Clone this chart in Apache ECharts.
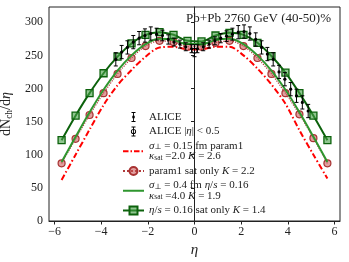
<!DOCTYPE html>
<html><head><meta charset="utf-8">
<script src="https://cdn.jsdelivr.net/npm/echarts@6/dist/echarts.min.js"></script>
<style>html,body{margin:0;padding:0;background:#fff}#c{width:349px;height:262px}</style>
</head><body><div id="c"></div>
<script>
// ---- data ----
const etaGrid   = [-5.7,-5.1,-4.5,-3.9,-3.3,-2.7,-2.1,-1.5,-0.9,-0.3,0.3,0.9,1.5,2.1,2.7,3.3,3.9,4.5,5.1,5.7];
const redDashDot= [62,100,138,175,205,228,248,262,263,259,259,263,263,250,230,206,177,137,100,64];
const circleSat = [87,124,160,193,222,246,264,272,270,263,263,269,272,264,246,222,193,161,125,87];
const greenLine = [89,127,164,198,227,250,267,275,273,267,267,273,275,267,250,227,198,164,127,89];
const squareSat = [122,159,193,223,248,268,281,285,281,272,271,280,284,281,269,249,224,193,159,122];
const aliceEta  = [-3.375,-3.125,-2.875,-2.625,-2.375,-2.125,-1.875,-1.625,-1.375,-1.125,-0.875,-0.625,-0.375,-0.125,
                   0.125,0.375,0.625,0.875,1.125,1.375,1.625,1.875,2.125,2.375,2.625,2.875,3.125,3.375,3.625,3.875,4.125,4.375,4.625,4.875];
const aliceVal  = [244,255,262,270,276,280,283,282,280,274,270,267,263,260,
                   260,263,267,272,276,279,282,285,286,283,274,262,252,244,225,214,199,189,179,166];
const aliceErr  = [10,10,10,10,10,10,10,9,8,7,6,6,6,6,
                   6,6,6,6,7,8,9,10,10,10,10,10,10,10,10,10,10,10,10,10];
const alice05Eta = [0];
const alice05Val = [257];
const alice05Err = [9];
const xTicks = [-6,-4,-2,0,2,4,6];
const yTicks = [0,50,100,150,200,250,300];

const SERIF = "'Liberation Serif','DejaVu Serif',serif";
const pairs = (xs, ys) => xs.map((x,i)=>[x, ys[i]]);
const triples = (xs, ys, es) => xs.map((x,i)=>[x, ys[i], es[i]]);

function errRender(capHalf, open){
  return function(params, api){
    const x=api.value(0), y=api.value(1), e=api.value(2);
    const p=api.coord([x,y]), lo=api.coord([x,y-e]), hi=api.coord([x,y+e]);
    const st={stroke:'#000',lineWidth:1};
    const ch=[
      {type:'line',shape:{x1:p[0],y1:lo[1],x2:p[0],y2:hi[1]},style:st},
      {type:'line',shape:{x1:p[0]-capHalf,y1:lo[1],x2:p[0]+capHalf,y2:lo[1]},style:st},
      {type:'line',shape:{x1:p[0]-capHalf,y1:hi[1],x2:p[0]+capHalf,y2:hi[1]},style:st},
      open ? {type:'circle',shape:{cx:p[0],cy:p[1],r:2.6},style:{fill:'rgba(255,255,255,0)',stroke:'#000',lineWidth:1}}
           : {type:'circle',shape:{cx:p[0],cy:p[1],r:1.6},style:{fill:'#000'}}
    ];
    return {type:'group',children:ch};
  };
}

const aliceIcon = 'path://M-10.5 5H-10.5Z M10.5 5H10.5Z M-2 0H2V0.9H-2Z M-0.45 0H0.45V10H-0.45Z M-2 9.1H2V10H-2Z M-1.2 3.8H1.2V6.2H-1.2Z';
const openIcon  = 'path://M-10.5 5H-10.5Z M10.5 5H10.5Z M-2 0H2V0.9H-2Z M-0.45 0H0.45V10H-0.45Z M-2 9.1H2V10H-2Z M2.6 5A2.6 2.6 0 1 1 -2.6 5A2.6 2.6 0 1 1 2.6 5Z M1.7 5A1.7 1.7 0 1 0 -1.7 5A1.7 1.7 0 1 0 1.7 5Z';
const dashDotIcon = 'path://M0 0H0Z M21 10H21Z M0 4H5.5V6H0Z M7.5 4H9V6H7.5Z M11 4H16.5V6H11Z M18.5 4H20V6H18.5Z';
const solidIcon = 'path://M0 0H0Z M21 10H21Z M0 4H21V6H0Z';

const legendText = {
  'ALICE': 'ALICE',
  'ALICE05': 'ALICE |{i|η}| < 0.5',
  'red': '{i|σ}{sub|⊥} = 0.15 fm param1\n{i|κ}{sub|sat} =2.0 {i|K} = 2.6',
  'circ': 'param1 sat only {i|K} = 2.2',
  'green': '{i|σ}{sub|⊥} = 0.4 fm {i|η}/{i|s} = 0.16\n{i|κ}{sub|sat} =4.0 {i|K} = 1.9',
  'sq': '{i|η}/{i|s} = 0.16 sat only {i|K} = 1.4'
};

const chart = echarts.init(document.getElementById('c'), null, {renderer:'canvas'});
chart.setOption({
  animation:false,
  backgroundColor:'#fff',
  grid:{left:49,right:9,top:7,bottom:41,containLabel:false,outerBoundsMode:'none',
        show:true,borderColor:'#222',borderWidth:1,backgroundColor:'transparent'},
  title:{text:'Pb+Pb 2760 GeV (40-50)%',right:18,top:12,padding:0,
         textStyle:{fontFamily:SERIF,fontSize:13,fontWeight:'normal',color:'#222'}},
  xAxis:{type:'value',min:-6.24,max:6.24,
    name:'η',nameLocation:'middle',nameGap:16,
    nameTextStyle:{fontFamily:SERIF,fontSize:15,fontStyle:'italic',color:'#222'},
    axisLine:{show:true,lineStyle:{color:'#222',width:1}},
    axisTick:{show:true,length:3.5,customValues:xTicks,lineStyle:{color:'#222'}},
    axisLabel:{customValues:xTicks,margin:5,fontFamily:SERIF,fontSize:12,color:'#222',
               formatter:v=>String(v).replace('-','\u2212')},
    splitLine:{show:false}},
  yAxis:{type:'value',min:0,max:323,
    name:'{n|dN}{sub|ch}{n|/d}{i|η}',nameLocation:'middle',nameGap:21,nameRotate:90,
    nameTextStyle:{fontFamily:SERIF,fontSize:14,color:'#222',
      rich:{n:{fontFamily:SERIF,fontSize:14,color:'#222',lineHeight:16},
            i:{fontFamily:SERIF,fontSize:14,fontStyle:'italic',color:'#222',lineHeight:16},
            sub:{fontFamily:SERIF,fontSize:9.5,color:'#222',verticalAlign:'bottom',lineHeight:16}}},
    axisLine:{show:true,lineStyle:{color:'#222',width:1}},
    axisTick:{show:true,length:3.5,customValues:yTicks,lineStyle:{color:'#222'}},
    axisLabel:{customValues:yTicks,margin:6,fontFamily:SERIF,fontSize:12,color:'#222'},
    splitLine:{show:false}},
  legend:{orient:'vertical',left:122,top:111.5,padding:0,itemGap:3.5,itemWidth:21,itemHeight:10,selectedMode:false,
    data:[{name:'ALICE',icon:aliceIcon},{name:'ALICE05',icon:openIcon},{name:'red',icon:dashDotIcon},'circ',
          {name:'green',icon:solidIcon},'sq'],
    formatter:n=>legendText[n],
    textStyle:{fontFamily:SERIF,fontSize:11,color:'#222',lineHeight:10.5,
      rich:{i:{fontFamily:SERIF,fontSize:11,fontStyle:'italic',color:'#222',lineHeight:10.5},
            sub:{fontFamily:SERIF,fontSize:7.5,color:'#222',verticalAlign:'bottom',lineHeight:10.5}}}},
  series:[
    {name:'red',type:'line',data:pairs(etaGrid,redDashDot),symbol:'none',smooth:0.3,
     lineStyle:{color:'#ff0000',width:2,type:[6,2.5,1.5,2.5]},itemStyle:{color:'#ff0000'},z:2},
    {name:'circ',type:'line',data:pairs(etaGrid,circleSat),symbol:'circle',symbolSize:7,smooth:0.3,
     lineStyle:{color:'#b03a3a',width:1.2,type:'dotted'},
     itemStyle:{color:'rgba(200,80,80,0.55)',borderColor:'#a83232',borderWidth:1.2},z:3},
    {name:'green',type:'line',data:pairs(etaGrid,greenLine),symbol:'none',smooth:0.3,
     lineStyle:{color:'#2f962f',width:2},itemStyle:{color:'#2f962f'},z:4},
    {name:'sq',type:'line',data:pairs(etaGrid,squareSat),symbol:'rect',symbolSize:7,smooth:0.3,
     lineStyle:{color:'#0c620c',width:2},
     itemStyle:{color:'rgba(70,160,70,0.6)',borderColor:'#0c620c',borderWidth:1.3},z:5},
    {name:'ALICE',type:'custom',data:triples(aliceEta,aliceVal,aliceErr),renderItem:errRender(2,false),
     encode:{x:0,y:1},itemStyle:{color:'#000'},z:6},
    {name:'ALICE05',type:'custom',data:triples(alice05Eta,alice05Val,alice05Err),renderItem:errRender(2,true),
     encode:{x:0,y:1},itemStyle:{color:'#000'},z:7}
  ]
});
</script></body></html>
